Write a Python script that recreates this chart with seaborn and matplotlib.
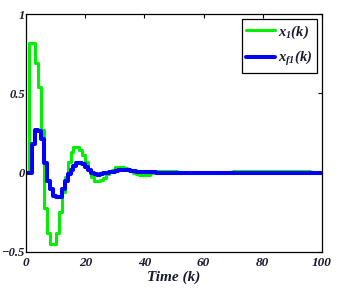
import matplotlib
matplotlib.use("Agg")
import matplotlib.pyplot as plt
import seaborn as sns
import pandas as pd
import numpy as np

# ---- data ----
k_steps = list(range(0, 101))

x1_values = [
    0.0, 0.82, 0.82, 0.69, 0.54, 0.27, -0.22, -0.38, -0.45, -0.45,
    -0.38, -0.25, -0.12, -0.03, 0.07, 0.13, 0.165, 0.165, 0.14, 0.11,
    0.07, 0.02, -0.025, -0.05, -0.05, -0.045, -0.035, -0.01, 0.005, 0.02,
    0.033, 0.033, 0.033, 0.03, 0.025, 0.017, 0.0, -0.01, -0.012, -0.012,
    -0.012, -0.012, 0.0, 0.008, 0.01, 0.01, 0.012, 0.012, 0.01, 0.008,
    0.008, 0.0, 0.0, 0.0, 0.0, 0.0, 0.0, 0.0, 0.0, 0.0,
    0.0, 0.0, 0.0, 0.0, 0.0, 0.0, 0.0, 0.0, 0.0, 0.0,
    0.008, 0.008, 0.008, 0.008, 0.008, 0.008, 0.008, 0.008, 0.008, 0.008,
    0.008, 0.008, 0.008, 0.008, 0.008, 0.008, 0.008, 0.008, 0.008, 0.008,
    0.008, 0.008, 0.008, 0.008, 0.008, 0.008, 0.0, 0.0, 0.0, 0.0,
    0.0,
]

xf1_values = [
    0.0, 0.0, 0.18, 0.27, 0.26, 0.21, 0.06, -0.05, -0.1, -0.15,
    -0.155, -0.155, -0.1, -0.05, -0.01, 0.02, 0.045, 0.06, 0.06, 0.055,
    0.035, 0.02, 0.0, -0.01, -0.012, -0.01, -0.005, 0.0, 0.003, 0.006,
    0.01, 0.014, 0.015, 0.015, 0.014, 0.01, 0.008, 0.004, 0.002, 0.002,
    0.002, 0.002, 0.002, 0.002, 0.001, 0.001, 0.001, 0.001, 0.001, 0.001,
    0.001, 0.001, 0.001, 0.001, 0.001, 0.001, 0.001, 0.001, 0.001, 0.001,
    0.001, 0.001, 0.001, 0.001, 0.001, 0.001, 0.001, 0.001, 0.001, 0.001,
    0.001, 0.001, 0.001, 0.001, 0.001, 0.001, 0.001, 0.001, 0.001, 0.001,
    0.001, 0.001, 0.001, 0.001, 0.001, 0.001, 0.001, 0.001, 0.001, 0.001,
    0.001, 0.001, 0.001, 0.001, 0.001, 0.001, 0.001, 0.001, 0.001, 0.001,
    0.001,
]

series_labels = ["x1", "xf1"]
legend_labels = [r"$x_{1}(k)$", r"$x_{f1}(k)$"]
x_ticks = [0, 20, 40, 60, 80, 100]
x_tick_labels = ["0", "20", "40", "60", "80", "100"]
y_ticks = [-0.5, 0, 0.5, 1]
y_tick_labels = ["\u22120.5", "0", "0.5", "1"]
x_label = "Time (k)"

df = pd.DataFrame({
    "k": k_steps + k_steps,
    "value": x1_values + xf1_values,
    "series": [series_labels[0]] * len(k_steps) + [series_labels[1]] * len(k_steps),
})

# ---- style ----
sns.set_style("white")
plt.rcParams["font.family"] = ["Liberation Serif", "DejaVu Serif"]
plt.rcParams["mathtext.fontset"] = "custom"
plt.rcParams["mathtext.it"] = "Liberation Serif:italic:bold"
plt.rcParams["mathtext.rm"] = "Liberation Serif:italic:bold"
plt.rcParams["mathtext.bf"] = "Liberation Serif:italic:bold"

fig = plt.figure(figsize=(3.44, 2.95), dpi=100)
ax = fig.add_axes([0.076, 0.146, 0.860, 0.806])

palette = {"x1": "#00ee00", "xf1": "#0000ff"}
green_df = df[df["series"] == "x1"]
blue_df = df[df["series"] == "xf1"]
sns.lineplot(data=green_df, x="k", y="value", color=palette["x1"], lw=2.2,
             drawstyle="steps-post", ax=ax, label=legend_labels[0])
sns.lineplot(data=blue_df, x="k", y="value", color=palette["xf1"], lw=2.9,
             drawstyle="steps-post", ax=ax, label=legend_labels[1])

ax.set_xlim(0, 100)
ax.set_ylim(-0.5, 1)
ax.set_xticks(x_ticks)
ax.set_xticklabels(x_tick_labels)
ax.set_yticks(y_ticks)
ax.set_yticklabels(y_tick_labels)
ax.tick_params(direction="in", length=3, width=0.8, top=True, right=True,
               labelsize=9.5, pad=3.5, colors="black")
ax.tick_params(axis="y", labelsize=9, pad=1)
for lab in ax.get_xticklabels() + ax.get_yticklabels():
    lab.set_fontweight("bold")
    lab.set_fontstyle("italic")
    lab.set_color("#1a1a2e")

for sp in ax.spines.values():
    sp.set_visible(True)
    sp.set_color("black")
    sp.set_linewidth(0.9)

ax.set_xlabel(x_label, fontsize=11, fontweight="bold", fontstyle="italic", labelpad=1.5,
              color="#1a1a2e")
ax.set_ylabel("")

leg = ax.legend(loc="upper right", bbox_to_anchor=(0.983, 0.980), borderaxespad=0,
                fancybox=False, frameon=True, edgecolor="black", framealpha=1,
                fontsize=10.5, handlelength=2.0, labelspacing=0.6, handletextpad=0.2,
                borderpad=0.3)
leg.get_frame().set_linewidth(0.9)
for t in leg.get_texts():
    t.set_color("#1a1a2e")

fig.savefig("out.png", dpi=100)
